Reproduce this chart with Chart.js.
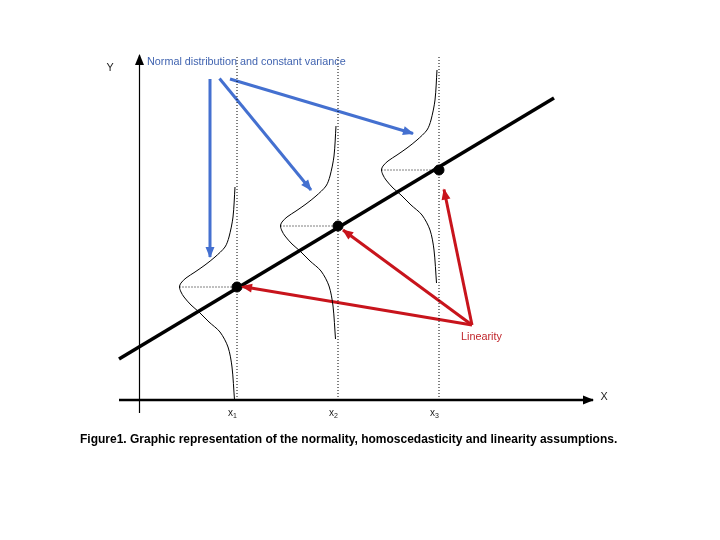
<!DOCTYPE html>
<html>
<head>
<meta charset="utf-8">
<script src="https://cdn.jsdelivr.net/npm/chart.js@4.4.0/dist/chart.umd.min.js"></script>
<style>
  html, body { margin: 0; padding: 0; background: #fff; }
  #wrap { width: 720px; height: 540px; }
</style>
</head>
<body>
<div id="wrap"><canvas id="fig" width="720" height="540"></canvas></div>
<script>
// figure units: origin at the axes crossing, 1 unit ~ 10 px of the original
const xTicks = [9.7, 19.8, 29.9];
const tickNames = ['1', '2', '3'];
const means = [11.3, 17.4, 23.0];
const fitLine = [{x: -2.1, y: 4.1}, {x: 41.4, y: 30.2}];
const guideTop = 34.3;

// shape of every normal curve (offset from its mean)
const profileDy = [10.0, 7.0, 5.0, 4.0, 3.0, 2.2, 1.5, 0.9, 0.4, 0, -0.5, -1.0, -1.8, -2.5, -3.5, -4.5, -6.0, -8.0, -11.3];
const profileDx = [-0.2, -0.4, -0.8, -1.2, -2.2, -3.2, -4.2, -5.1, -5.6, -5.75, -5.6, -5.3, -4.6, -3.8, -2.8, -1.7, -0.9, -0.5, -0.25];

const xAxisEnds = [{x: -2.1, y: 0}, {x: 45.3, y: 0}];
const yAxisEnds = [{x: -0.05, y: -1.3}, {x: -0.05, y: 34.5}];

const blueArrows = [
  [{x: 7.0, y: 32.1}, {x: 7.0, y: 14.3}],
  [{x: 7.95, y: 32.15}, {x: 17.1, y: 21.0}],
  [{x: 9.0, y: 32.1}, {x: 27.3, y: 26.65}]
];
const redStart = {x: 33.2, y: 7.5};
const redTips = [{x: 10.2, y: 11.35}, {x: 20.3, y: 17.0}, {x: 30.4, y: 21.05}];

const notes = [
  {text: 'Y', x: -3.0, y: 33.2, color: '#222', align: 'center'},
  {text: 'Normal distribution and constant variance', x: 0.7, y: 33.8, color: '#4164b0', align: 'left'},
  {text: 'Linearity', x: 32.1, y: 6.3, color: '#c0262c', align: 'left'},
  {text: 'X', x: 46.4, y: 0.3, color: '#222', align: 'center'}
];
const caption = 'Figure1. Graphic representation of the normality, homoscedasticity and linearity assumptions.';

const BLUE = '#4470d0';
const RED = '#c8141c';

function seg(points, color, width, extra) {
  return Object.assign({
    data: points, showLine: true, borderColor: color, backgroundColor: color,
    borderWidth: width, pointRadius: 0, tension: 0
  }, extra || {});
}

const datasets = [];

// axes
datasets.push(seg(xAxisEnds, '#000', 2.5, {arrow: true}));
datasets.push(seg(yAxisEnds, '#000', 1.2, {arrow: true}));

// dotted guides
xTicks.forEach((xv, i) => {
  datasets.push(seg([{x: xv, y: 0}, {x: xv, y: guideTop}], '#000', 1, {borderDash: [1, 2]}));
  const left = xv + Math.min(...profileDx);
  datasets.push(seg([{x: left, y: means[i]}, {x: xv, y: means[i]}], '#000', 1, {borderDash: [1, 2]}));
});

// normal curves
xTicks.forEach((xv, i) => {
  const pts = profileDy.map((dy, k) => ({x: xv + profileDx[k], y: means[i] + dy}));
  datasets.push(seg(pts, '#000', 1, {tension: 0.3}));
});

// regression line
datasets.push(seg(fitLine, '#000', 3.5));

// arrows
blueArrows.forEach(a => datasets.push(seg(a, BLUE, 3, {arrow: true})));
redTips.forEach(t => datasets.push(seg([redStart, t], RED, 3, {arrow: true})));

// means on the line
datasets.push({
  data: xTicks.map((xv, i) => ({x: xv, y: means[i]})),
  showLine: false, pointRadius: 5, pointBackgroundColor: '#000', pointBorderColor: '#000'
});

const decor = {
  id: 'decor',
  afterDatasetsDraw(chart) {
    const ctx = chart.ctx;
    const xs = chart.scales.x, ys = chart.scales.y;
    chart.data.datasets.forEach((ds, i) => {
      if (!ds.arrow) return;
      const pts = chart.getDatasetMeta(i).data;
      const a = pts[pts.length - 2], b = pts[pts.length - 1];
      const ang = Math.atan2(b.y - a.y, b.x - a.x);
      const len = 10, half = 4.5;
      ctx.save();
      ctx.fillStyle = ds.borderColor;
      ctx.translate(b.x, b.y);
      ctx.rotate(ang);
      ctx.beginPath();
      ctx.moveTo(1, 0);
      ctx.lineTo(-len, -half);
      ctx.lineTo(-len, half);
      ctx.closePath();
      ctx.fill();
      ctx.restore();
    });

    ctx.save();
    ctx.textBaseline = 'middle';
    notes.forEach(n => {
      ctx.font = '10.8px "Liberation Sans", Arial, sans-serif';
      ctx.fillStyle = n.color;
      ctx.textAlign = n.align;
      ctx.fillText(n.text, xs.getPixelForValue(n.x), ys.getPixelForValue(n.y));
    });
    ctx.fillStyle = '#222';
    ctx.textAlign = 'center';
    xTicks.forEach((xv, i) => {
      const px = xs.getPixelForValue(xv), py = ys.getPixelForValue(-1.35);
      ctx.font = '10px "Liberation Sans", Arial, sans-serif';
      ctx.fillText('x', px - 6.5, py);
      ctx.font = '7px "Liberation Sans", Arial, sans-serif';
      ctx.fillText(tickNames[i], px - 2, py + 3);
    });
    ctx.fillStyle = '#000';
    ctx.textAlign = 'left';
    ctx.font = 'bold 12px "Liberation Sans", Arial, sans-serif';
    ctx.fillText(caption, xs.getPixelForValue(-6.0), ys.getPixelForValue(-3.95));
    ctx.restore();
  }
};

new Chart(document.getElementById('fig'), {
  type: 'scatter',
  data: {datasets: datasets},
  options: {
    responsive: false,
    animation: false,
    events: [],
    layout: {padding: 0, autoPadding: false},
    plugins: {legend: {display: false}, tooltip: {enabled: false}},
    scales: {
      x: {type: 'linear', min: -14, max: 58, display: false},
      y: {type: 'linear', min: -14, max: 40, display: false}
    }
  },
  plugins: [decor]
});
</script>
</body>
</html>
